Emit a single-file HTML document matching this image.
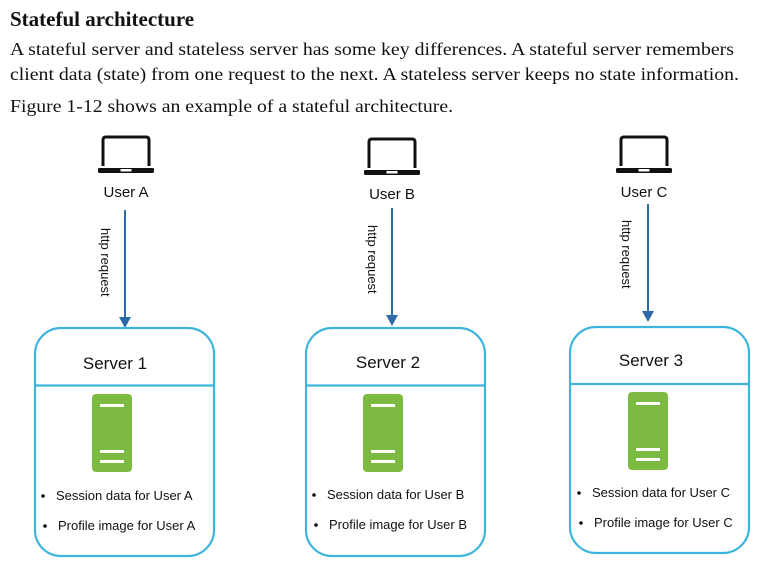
<!DOCTYPE html>
<html><head><meta charset="utf-8"><style>
html,body{margin:0;padding:0;background:#fff;width:763px;height:569px;overflow:hidden}
svg{display:block}
.s{font-family:"Liberation Serif",serif;fill:#111}
.a{font-family:"Liberation Sans",Arial,sans-serif;fill:#111}
</style></head><body>
<svg width="763" height="569" viewBox="0 0 763 569" xmlns="http://www.w3.org/2000/svg">
<defs>
<g id="lap">
<path d="M-23 29 V3 Q-23 0 -20 0 H20 Q23 0 23 3 V29" fill="none" stroke="#111" stroke-width="3"/>
<rect x="-28" y="31" width="56" height="5" rx="1.5" fill="#111"/>
<rect x="-5.5" y="32" width="11" height="2.5" fill="#fff"/>
</g>
<g id="srv">
<rect x="0" y="0" width="40" height="78" rx="4" fill="#7cba42"/>
<rect x="8" y="10" width="24" height="3" fill="#fff"/>
<rect x="8" y="56" width="24" height="3" fill="#fff"/>
<rect x="8" y="66" width="24" height="3" fill="#fff"/>
</g>
</defs>
<text class="s" x="10" y="26" font-size="21" font-weight="bold">Stateful architecture</text>
<text class="s" x="10" y="55" font-size="18" textLength="724" lengthAdjust="spacingAndGlyphs">A stateful server and stateless server has some key differences. A stateful server remembers</text>
<text class="s" x="10" y="80" font-size="18" textLength="729" lengthAdjust="spacingAndGlyphs">client data (state) from one request to the next. A stateless server keeps no state information.</text>
<text class="s" x="10" y="112" font-size="18" textLength="443" lengthAdjust="spacingAndGlyphs">Figure 1-12 shows an example of a stateful architecture.</text>

<!-- Column A -->
<use href="#lap" x="126" y="137"/>
<text class="a" x="126" y="197" font-size="15" text-anchor="middle">User A</text>
<line x1="125" y1="210" x2="125" y2="318" stroke="#2e6aa8" stroke-width="2"/>
<polygon points="119,317 131,317 125,328" fill="#2e6aa8"/>
<text class="a" font-size="13" transform="translate(101,228) rotate(90)">http request</text>
<rect x="35" y="328" width="179" height="228" rx="26" fill="none" stroke="#3db4dc" stroke-width="2.2"/>
<line x1="35" y1="385.5" x2="214" y2="385.5" stroke="#3db4dc" stroke-width="2.2"/>
<text class="a" x="115" y="369" font-size="17" text-anchor="middle">Server 1</text>
<use href="#srv" x="92" y="394"/>
<circle cx="43" cy="496" r="1.8" fill="#111"/>
<text class="a" x="56" y="500" font-size="13">Session data for User A</text>
<circle cx="45" cy="526" r="1.8" fill="#111"/>
<text class="a" x="58" y="530" font-size="13">Profile image for User A</text>

<!-- Column B -->
<use href="#lap" x="392" y="139"/>
<text class="a" x="392" y="199" font-size="15" text-anchor="middle">User B</text>
<line x1="392" y1="208" x2="392" y2="316" stroke="#2e6aa8" stroke-width="2"/>
<polygon points="386,315 398,315 392,326" fill="#2e6aa8"/>
<text class="a" font-size="13" transform="translate(368,225) rotate(90)">http request</text>
<rect x="306" y="328" width="179" height="228" rx="26" fill="none" stroke="#3db4dc" stroke-width="2.2"/>
<line x1="306" y1="385.5" x2="485" y2="385.5" stroke="#3db4dc" stroke-width="2.2"/>
<text class="a" x="388" y="368" font-size="17" text-anchor="middle">Server 2</text>
<use href="#srv" x="363" y="394"/>
<circle cx="314" cy="495" r="1.8" fill="#111"/>
<text class="a" x="327" y="499" font-size="13">Session data for User B</text>
<circle cx="316" cy="525" r="1.8" fill="#111"/>
<text class="a" x="329" y="529" font-size="13">Profile image for User B</text>

<!-- Column C -->
<use href="#lap" x="644" y="137"/>
<text class="a" x="644" y="197" font-size="15" text-anchor="middle">User C</text>
<line x1="648" y1="204" x2="648" y2="312" stroke="#2e6aa8" stroke-width="2"/>
<polygon points="642,311 654,311 648,322" fill="#2e6aa8"/>
<text class="a" font-size="13" transform="translate(622,220) rotate(90)">http request</text>
<rect x="570" y="327" width="179" height="226" rx="26" fill="none" stroke="#3db4dc" stroke-width="2.2"/>
<line x1="570" y1="384" x2="749" y2="384" stroke="#3db4dc" stroke-width="2.2"/>
<text class="a" x="651" y="366" font-size="17" text-anchor="middle">Server 3</text>
<use href="#srv" x="628" y="392"/>
<circle cx="579" cy="493" r="1.8" fill="#111"/>
<text class="a" x="592" y="497" font-size="13">Session data for User C</text>
<circle cx="581" cy="523" r="1.8" fill="#111"/>
<text class="a" x="594" y="527" font-size="13">Profile image for User C</text>
</svg>
</body></html>
